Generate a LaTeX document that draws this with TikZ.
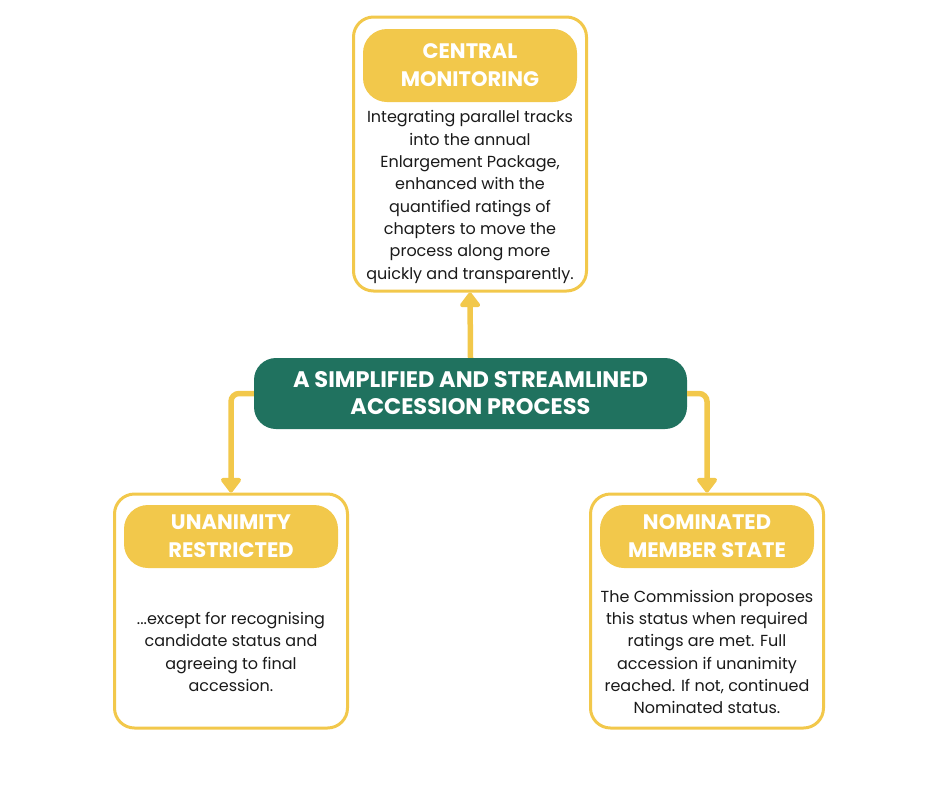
\documentclass[tikz,border=0pt]{standalone}
\usepackage{fontspec}
\setmainfont{Poppins}
\usetikzlibrary{arrows.meta}
\definecolor{ylw}{HTML}{F2C84B}
\definecolor{teal}{HTML}{20725F}
\definecolor{ink}{HTML}{1A1A1A}
\tikzset{
  outerbox/.style={draw=ylw, line width=3pt, rounded corners=20pt, fill=white, minimum width=233pt, inner sep=0pt},
  headbox/.style={fill=ylw, rounded corners=24pt, minimum width=214pt, text=white, align=center, font=\fontsize{21}{28}\selectfont\bfseries, inner sep=0pt},
  bodytext/.style={text=ink, align=center, font=\fontsize{16}{22.3}\selectfont, inner sep=0pt},
  centerbox/.style={fill=teal, rounded corners=22pt, minimum width=433pt, minimum height=71pt, text=white, align=center, font=\fontsize{22.5}{27}\selectfont\bfseries, inner sep=0pt},
  conn/.style={draw=ylw, line width=5.5pt, -{Triangle[width=23pt,length=16pt,round]}}
}
\begin{document}
\begin{tikzpicture}[x=1pt,y=-1pt]
\useasboundingbox (0,0) rectangle (940,788);
% top box
\node[outerbox, minimum height=274pt] (cm) at (470,154) {};
\node[headbox, minimum height=73pt] (cmh) at (470,65.5) {CENTRAL\\MONITORING};
\node[bodytext] (cmb) at (470,197) {Integrating parallel tracks\\into the annual\\Enlargement Package,\\enhanced with the\\quantified ratings of\\chapters to move the\\process along more\\quickly and transparently.};
% centre
\node[centerbox] (ctr) at (470.5,393.5) {A SIMPLIFIED AND STREAMLINED\\ACCESSION PROCESS};
% left box
\node[outerbox, minimum height=234pt] (ur) at (231,611) {};
\node[headbox, minimum height=63pt] (urh) at (231,536.5) {UNANIMITY\\RESTRICTED};
\node[bodytext] (urb) at (231,652) {...except for recognising\\candidate status and\\agreeing to final\\accession.};
% right box
\node[outerbox, minimum height=234pt] (nm) at (707,611) {};
\node[headbox, minimum height=63pt] (nmh) at (707,536.5) {NOMINATED\\MEMBER STATE};
\node[bodytext] (nmb) at (707,652) {The Commission proposes\\this status when required\\ratings are met. Full\\accession if unanimity\\reached. If not, continued\\Nominated status.};
% connectors
\draw[conn] (ctr.north) -- (cm.south);
\draw[conn, rounded corners=8pt] (ctr.west) -| (ur.north);
\draw[conn, rounded corners=8pt] (ctr.east) -| (nm.north);
\end{tikzpicture}
\end{document}
